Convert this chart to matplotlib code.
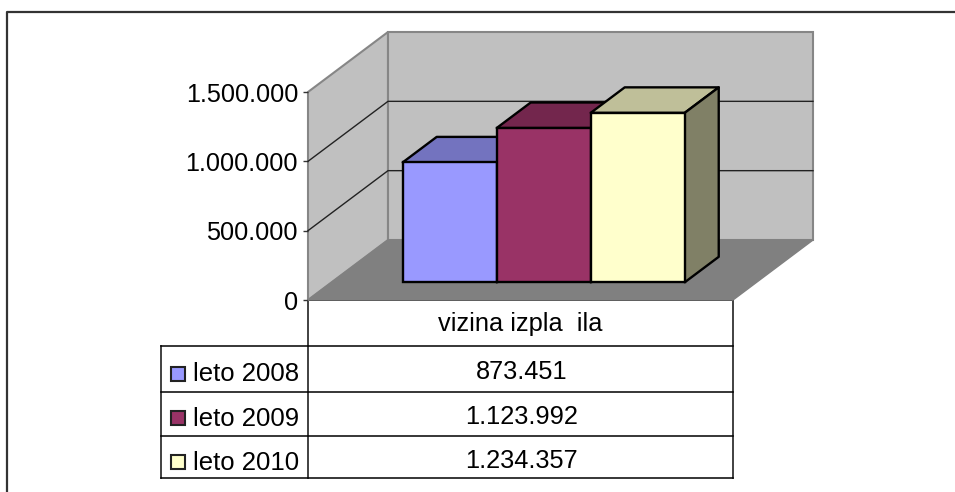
import matplotlib
matplotlib.use("Agg")
import matplotlib.pyplot as plt
from matplotlib.patches import Polygon, Rectangle

plt.rcParams['font.family'] = ['Liberation Sans', 'DejaVu Sans']

W, H = 955, 492

series_names = ["leto 2008", "leto 2009", "leto 2010"]
series_values = [873451, 1123992, 1234357]
value_labels = ["873.451", "1.123.992", "1.234.357"]
category_label = "vizina izpla  ila"
y_ticks = [0, 500000, 1000000, 1500000]
y_tick_labels = ["0", "500.000", "1.000.000", "1.500.000"]

front_colors = ["#9999FF", "#993366", "#FFFFCC"]
top_colors = ["#7373BF", "#73264D", "#BFBF99"]
side_colors = ["#666699", "#73264D", "#808066"]

# Plot area in pixels (front plane of the 3D box)
left, right, top, bottom = 308, 733, 92, 300
floor_dx = 80 / (right - left)   # depth shift in x units
floor_dy = 60 / (bottom - top) * y_ticks[-1]   # depth shift in value units

bar_width = 0.2212
bar_start = 0.1673
depth_front = 0.295
depth_back = 0.72
bar_scale = 0.99   # bars sit a little deeper in the box, so they come out slightly shorter


def proj(x, v, d):
    return (x + d * floor_dx, v + d * floor_dy)


def box_poly(ax, pts, **kw):
    ax.add_patch(Polygon(pts, closed=True, clip_on=False, **kw))


fig = plt.figure(figsize=(W / 100, H / 100), dpi=100, facecolor="white")

# Outer chart frame, only top and left are inside the picture
fig.add_artist(plt.Line2D([7 / W, 7 / W, 1], [0, 1 - 11.5 / H, 1 - 11.5 / H],
                          color="#333333", lw=1.6))

ax = fig.add_axes([left / W, 1 - bottom / H, (right - left) / W, (bottom - top) / H])
ax.set_xlim(0, 1)
ax.set_ylim(0, y_ticks[-1])
ax.patch.set_visible(False)
for s in ax.spines.values():
    s.set_visible(False)

ymax = y_ticks[-1]
wall_edge = "#868686"

# Walls
box_poly(ax, [proj(0, 0, 0), proj(0, ymax, 0), proj(0, ymax, 1), proj(0, 0, 1)],
         facecolor="#C0C0C0", edgecolor=wall_edge, lw=1.5, zorder=1)
box_poly(ax, [proj(0, 0, 1), proj(0, ymax, 1), proj(1, ymax, 1), proj(1, 0, 1)],
         facecolor="#C0C0C0", edgecolor=wall_edge, lw=1.5, zorder=1)
box_poly(ax, [proj(0, 0, 0), proj(1, 0, 0), proj(1, 0, 1), proj(0, 0, 1)],
         facecolor="#808080", edgecolor="#808080", lw=1, zorder=2)

# Gridlines on the walls
for t in y_ticks[1:-1]:
    xs, ys = zip(proj(0, t, 0), proj(0, t, 1), proj(1, t, 1))
    ax.plot(xs, ys, color="#222222", lw=1, zorder=3, clip_on=False)

# Bars: back to front so the shared edges stay on top
for i, value in enumerate(series_values):
    v = value * bar_scale
    x0 = bar_start + i * bar_width
    x1 = x0 + bar_width
    box_poly(ax, [proj(x0, v, depth_front), proj(x1, v, depth_front),
                  proj(x1, v, depth_back), proj(x0, v, depth_back)],
             facecolor=top_colors[i], edgecolor="black", lw=1.7, joinstyle="round", zorder=4 + i)
    box_poly(ax, [proj(x1, 0, depth_front), proj(x1, v, depth_front),
                  proj(x1, v, depth_back), proj(x1, 0, depth_back)],
             facecolor=side_colors[i], edgecolor="black", lw=1.7, joinstyle="round", zorder=4 + i)
    fx, fy = proj(x0, 0, depth_front)
    ax.bar(fx, v, width=bar_width, bottom=fy, align="edge", color=front_colors[i],
           edgecolor="black", lw=1.7, zorder=5 + i, clip_on=False)

# Value axis
ax.set_xticks([])
ax.set_yticks(y_ticks)
ax.set_yticklabels(y_tick_labels, fontsize=18.2, color="black")
ax.tick_params(axis="y", length=3.6, width=1, color="#333333", pad=3.6)

# Data table underneath, in pixel coordinates
tb = fig.add_axes([0, 0, 1, 1], zorder=-1)
tb.set_xlim(0, W)
tb.set_ylim(H, 0)
tb.axis("off")

table_left = 161
row_lines = [300, 346, 392, 436, 478]
value_text_y = [369.5, 414.5, 458]
name_text_y = [371.5, 416, 460]
key_y = [374, 417.5, 461.5]

tb.plot([left, right], [row_lines[0]] * 2, color="black", lw=1.3)
tb.plot([left, left], [row_lines[0], row_lines[-1]], color="#333333", lw=1.3)
tb.plot([right, right], [row_lines[0], row_lines[-1]], color="#333333", lw=1.3)
tb.plot([table_left, table_left], [row_lines[1], row_lines[-1]], color="#333333", lw=1.3)
for y in row_lines[1:]:
    tb.plot([table_left, right], [y, y], color="black", lw=1.1)

text_x = (left + right) / 2 + 1
tb.text(text_x - 1, 321, category_label, fontsize=18.3, ha="center", va="center_baseline")
for i, name in enumerate(series_names):
    tb.add_patch(Rectangle((171, key_y[i] - 7), 14, 14, facecolor=front_colors[i],
                           edgecolor="#222222", lw=1.5))
    tb.text(193, name_text_y[i], name, fontsize=18.5, ha="left", va="center_baseline")
    tb.text(text_x, value_text_y[i], value_labels[i], fontsize=18.3, ha="center", va="center_baseline")

fig.savefig("out.png", dpi=100)
